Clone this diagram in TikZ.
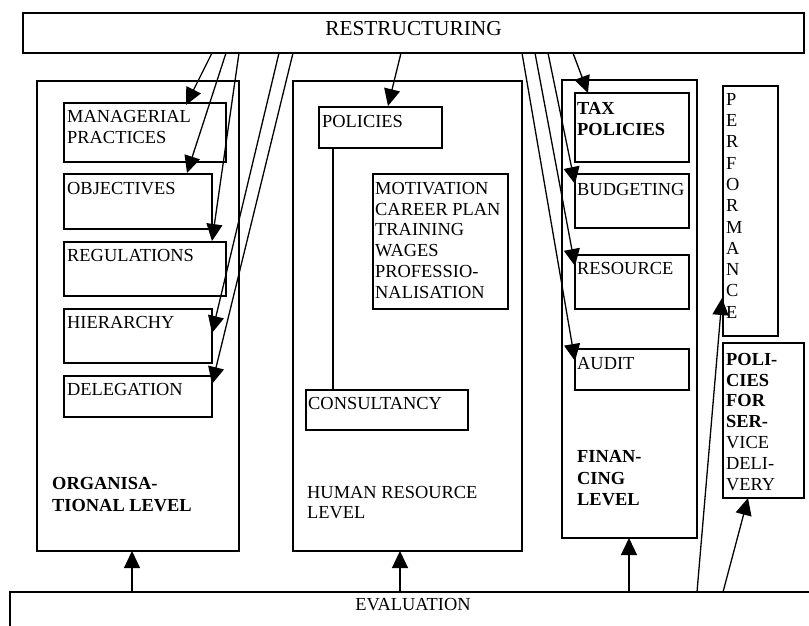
\documentclass[tikz,border=0pt]{standalone}
\usepackage{fontspec}
\setmainfont{Liberation Serif}
\usetikzlibrary{arrows.meta,calc}
\begin{document}
\begin{tikzpicture}[x=1pt,y=-1pt,
 box/.style={draw, line width=1.4pt, anchor=north west, inner sep=0pt, outer sep=0pt},
 lbl/.style={anchor=north west, inner sep=0pt, align=left, font=\fontsize{18.4}{20.8}\selectfont},
 biglbl/.style={anchor=base, inner sep=0pt, font=\fontsize{21.3}{24}\selectfont},
 arr/.style={line width=1.3pt, -{Triangle[length=17pt,width=16pt]}},
 link/.style={line width=1.3pt}]
\useasboundingbox (0,0) rectangle (809,625);
\clip (0,0) rectangle (809,625);
% boxes
\node[box, minimum width=781pt, minimum height=40pt] (restr) at (23,13) {};
\node[box, minimum width=202pt, minimum height=470pt] (org) at (37,81) {};
\node[box, minimum width=162pt, minimum height=59pt] (mp) at (64,103) {};
\node[box, minimum width=148pt, minimum height=55pt] (obj) at (64,174) {};
\node[box, minimum width=162pt, minimum height=54pt] (reg) at (64,242) {};
\node[box, minimum width=148pt, minimum height=54pt] (hier) at (64,309) {};
\node[box, minimum width=148pt, minimum height=41pt] (deleg) at (64,376) {};
\node[box, minimum width=229pt, minimum height=470pt] (hr) at (293,81) {};
\node[box, minimum width=123pt, minimum height=41pt] (pol) at (319,107) {};
\node[box, minimum width=135pt, minimum height=135pt] (motiv) at (373,174) {};
\node[box, minimum width=162pt, minimum height=40pt] (cons) at (306,390) {};
\node[box, minimum width=135pt, minimum height=458pt] (fin) at (562,80) {};
\node[box, minimum width=114pt, minimum height=69pt] (tax) at (575,93) {};
\node[box, minimum width=114pt, minimum height=54pt] (budg) at (575,174) {};
\node[box, minimum width=114pt, minimum height=54pt] (res) at (575,255) {};
\node[box, minimum width=114pt, minimum height=41pt] (aud) at (575,349) {};
\node[box, minimum width=55pt, minimum height=250pt] (perf) at (723,86) {};
\node[box, minimum width=81pt, minimum height=155pt] (psd) at (723,343) {};
\node[box, minimum width=820pt, minimum height=60pt] (eval) at (10,592) {};
% labels
\node[biglbl] (restrT) at (413.5,35) {RESTRUCTURING};
\node[anchor=base, inner sep=0pt, font=\fontsize{18.4}{20.8}\selectfont] (evalT) at (413,610) {EVALUATION};
\node[lbl] (mpT) at (67,110) {MANAGERIAL\\PRACTICES};
\node[lbl] (objT) at (67,182) {OBJECTIVES};
\node[lbl] (regT) at (67,249) {REGULATIONS};
\node[lbl] (hierT) at (67,316) {HIERARCHY};
\node[lbl] (delegT) at (67,383) {DELEGATION};
\node[lbl, font=\fontsize{18.4}{21.7}\selectfont\bfseries] (orgT) at (52,477) {ORGANISA-\\TIONAL LEVEL};
\node[lbl] (polT) at (322,115) {POLICIES};
\node[lbl] (motivT) at (375,182) {MOTIVATION\\CAREER PLAN\\TRAINING\\WAGES\\PROFESSIO-\\NALISATION};
\node[lbl] (consT) at (308,397) {CONSULTANCY};
\node[lbl, font=\fontsize{18.4}{20}\selectfont] (hrT) at (307,486) {HUMAN RESOURCE\\LEVEL};
\node[lbl, font=\fontsize{18.4}{20.8}\selectfont\bfseries] (taxT) at (577,102) {TAX\\POLICIES};
\node[lbl] (budgT) at (577,183) {BUDGETING};
\node[lbl] (resT) at (577,262) {RESOURCE};
\node[lbl] (audT) at (577,357) {AUDIT};
\node[lbl, font=\fontsize{18.4}{21.7}\selectfont\bfseries] (finT) at (577,450) {FINAN-\\CING\\LEVEL};
\node[lbl, font=\fontsize{18.4}{21.3}\selectfont] (perfT) at (726,93) {P\\E\\R\\F\\O\\R\\M\\A\\N\\C\\E};
\node[lbl] (psdT) at (726,353) {\textbf{POLI-}\\\textbf{CIES}\\\textbf{FOR}\\\textbf{SER-}\\VICE\\DELI-\\VERY};
% restructuring arrows
\draw[arr] ($(restr.south west)+(189,0)$) -- ($(mp.north west)+(122,2)$);
\draw[arr] ($(restr.south west)+(203,0)$) -- ($(obj.north west)+(123,-1)$);
\draw[arr] ($(restr.south west)+(216,0)$) -- ($(reg.north west)+(148,-1)$);
\draw[arr] ($(restr.south west)+(256,0)$) -- ($(hier.north west)+(148,24)$);
\draw[arr] ($(restr.south west)+(270,0)$) -- ($(deleg.north west)+(148,8)$);
\draw[arr] ($(restr.south west)+(378,0)$) -- ($(pol.north west)+(69,-1)$);
\draw[arr] ($(restr.south west)+(499,0)$) -- ($(aud.north west)+(0,12)$);
\draw[arr] ($(restr.south west)+(512,0)$) -- ($(res.north west)+(0,11)$);
\draw[arr] ($(restr.south west)+(525,0)$) -- ($(budg.north west)+(0,10)$);
\draw[arr] ($(restr.south west)+(550,0)$) -- ($(tax.north west)+(13,0)$);
% policies - consultancy
\draw[link] ($(pol.south west)+(14,0)$) -- ($(cons.north west)+(27,0)$);
% evaluation arrows
\draw[arr] ($(eval.north west)+(122,0)$) -- ($(org.south west)+(95,0)$);
\draw[arr] ($(eval.north west)+(390,0)$) -- ($(hr.south west)+(107,0)$);
\draw[arr] ($(eval.north west)+(619,0)$) -- ($(fin.south west)+(67,0)$);
\draw[arr] ($(eval.north west)+(687,0)$) -- ($(perf.north west)+(-1,212)$);
\draw[arr] ($(eval.north west)+(713,0)$) -- ($(psd.south west)+(25,0)$);
\end{tikzpicture}
\end{document}
